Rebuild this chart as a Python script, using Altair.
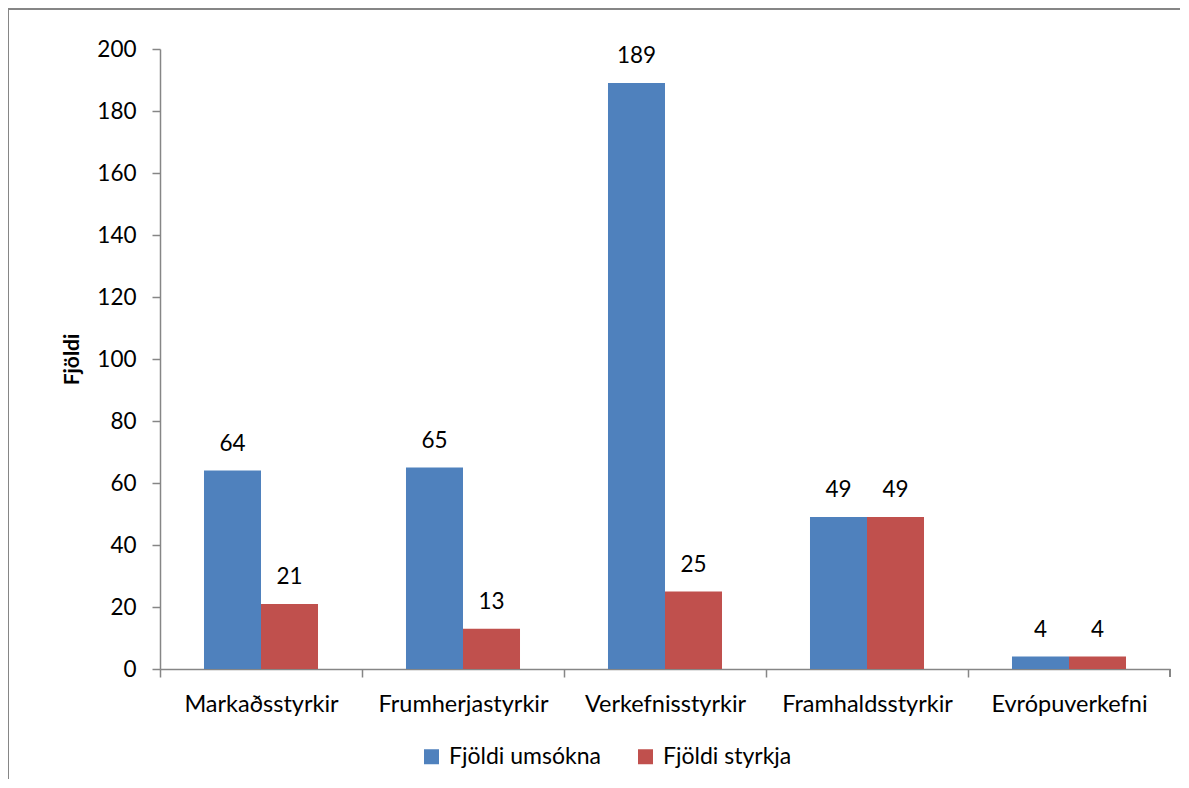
import altair as alt
import pandas as pd

categories = ["Markaðsstyrkir", "Frumherjastyrkir", "Verkefnisstyrkir", "Framhaldsstyrkir", "Evrópuverkefni"]
series = ["Fjöldi umsókna", "Fjöldi styrkja"]
umsokna = [64, 65, 189, 49, 4]
styrkja = [21, 13, 25, 49, 4]
y_ticks = [0, 20, 40, 60, 80, 100, 120, 140, 160, 180, 200]
colors = ["#4F81BD", "#C0504D"]

rows = []
for c, a, b in zip(categories, umsokna, styrkja):
    rows.append({"cat": c, "series": series[0], "value": a})
    rows.append({"cat": c, "series": series[1], "value": b})
df = pd.DataFrame(rows)

W, H = 1010, 620
FONT = "Lato"
GRAY = "#868686"

x_enc = alt.X("cat:N", sort=categories,
              scale=alt.Scale(paddingInner=0.4356, paddingOuter=0.2178),
              axis=alt.Axis(title=None, tickOffset=-101, labelOffset=101, tickSize=8,
                            labelPadding=15, labelFontSize=23.5, labelFont=FONT,
                            labelColor="#000000", labelAngle=0, labelAlign="center",
                            domainColor=GRAY, domainWidth=1.5, tickColor=GRAY, tickWidth=1.5))
y_enc = alt.Y("value:Q", scale=alt.Scale(domain=[0, 200], nice=False),
              axis=alt.Axis(values=y_ticks, grid=False, title="Fjöldi", titleFont=FONT,
                            titleFontSize=21, titleFontWeight="bold", titleColor="#000000",
                            titleAngle=270, titleX=-88, titleY=310, titleAlign="center",
                            titleBaseline="middle", tickSize=8, labelPadding=16,
                            labelFontSize=22.5, labelFont=FONT, labelColor="#000000",
                            domainColor=GRAY, domainWidth=1.5, tickColor=GRAY, tickWidth=1.5))
xoff = alt.XOffset("series:N", sort=series, scale=alt.Scale(paddingInner=0, paddingOuter=0))

base = alt.Chart(df)

bars = base.mark_bar().encode(
    x=x_enc, y=y_enc, xOffset=xoff,
    color=alt.Color("series:N", sort=series,
                    scale=alt.Scale(domain=series, range=colors),
                    legend=alt.Legend(title=None, orient="none", direction="horizontal",
                                      legendX=260, legendY=696, padding=0,
                                      symbolType="square", symbolSize=225,
                                      symbolStrokeWidth=0, labelFont=FONT, labelFontSize=23,
                                      labelColor="#000000", labelOffset=6, columnPadding=33)),
)

labels = base.mark_text(font=FONT, fontSize=22.5, color="#000000", baseline="alphabetic",
                        dy=-20).encode(
    x=alt.X("cat:N", sort=categories), y="value:Q", xOffset=xoff, text="value:Q"
)

end_tick = alt.Chart(df).mark_rule(color=GRAY, strokeWidth=1.5).encode(
    x=alt.value(W), y=alt.value(H), y2=alt.value(H + 8)
)
frame_top = alt.Chart(df).mark_rule(color=GRAY, strokeWidth=2).encode(
    x=alt.value(-152), x2=alt.value(W + 40), y=alt.value(-40)
)
frame_left = alt.Chart(df).mark_rule(color=GRAY, strokeWidth=2).encode(
    x=alt.value(-152), y=alt.value(-40), y2=alt.value(H + 120)
)

chart = alt.layer(bars, labels, end_tick, frame_top, frame_left).properties(
    width=W, height=H,
    autosize=alt.AutoSizeParams(type="none"),
    padding={"left": 152, "top": 41, "right": 10, "bottom": 110},
).configure_view(stroke=None)

chart.save("out.html", embed_options={"renderer": "svg", "actions": False})
